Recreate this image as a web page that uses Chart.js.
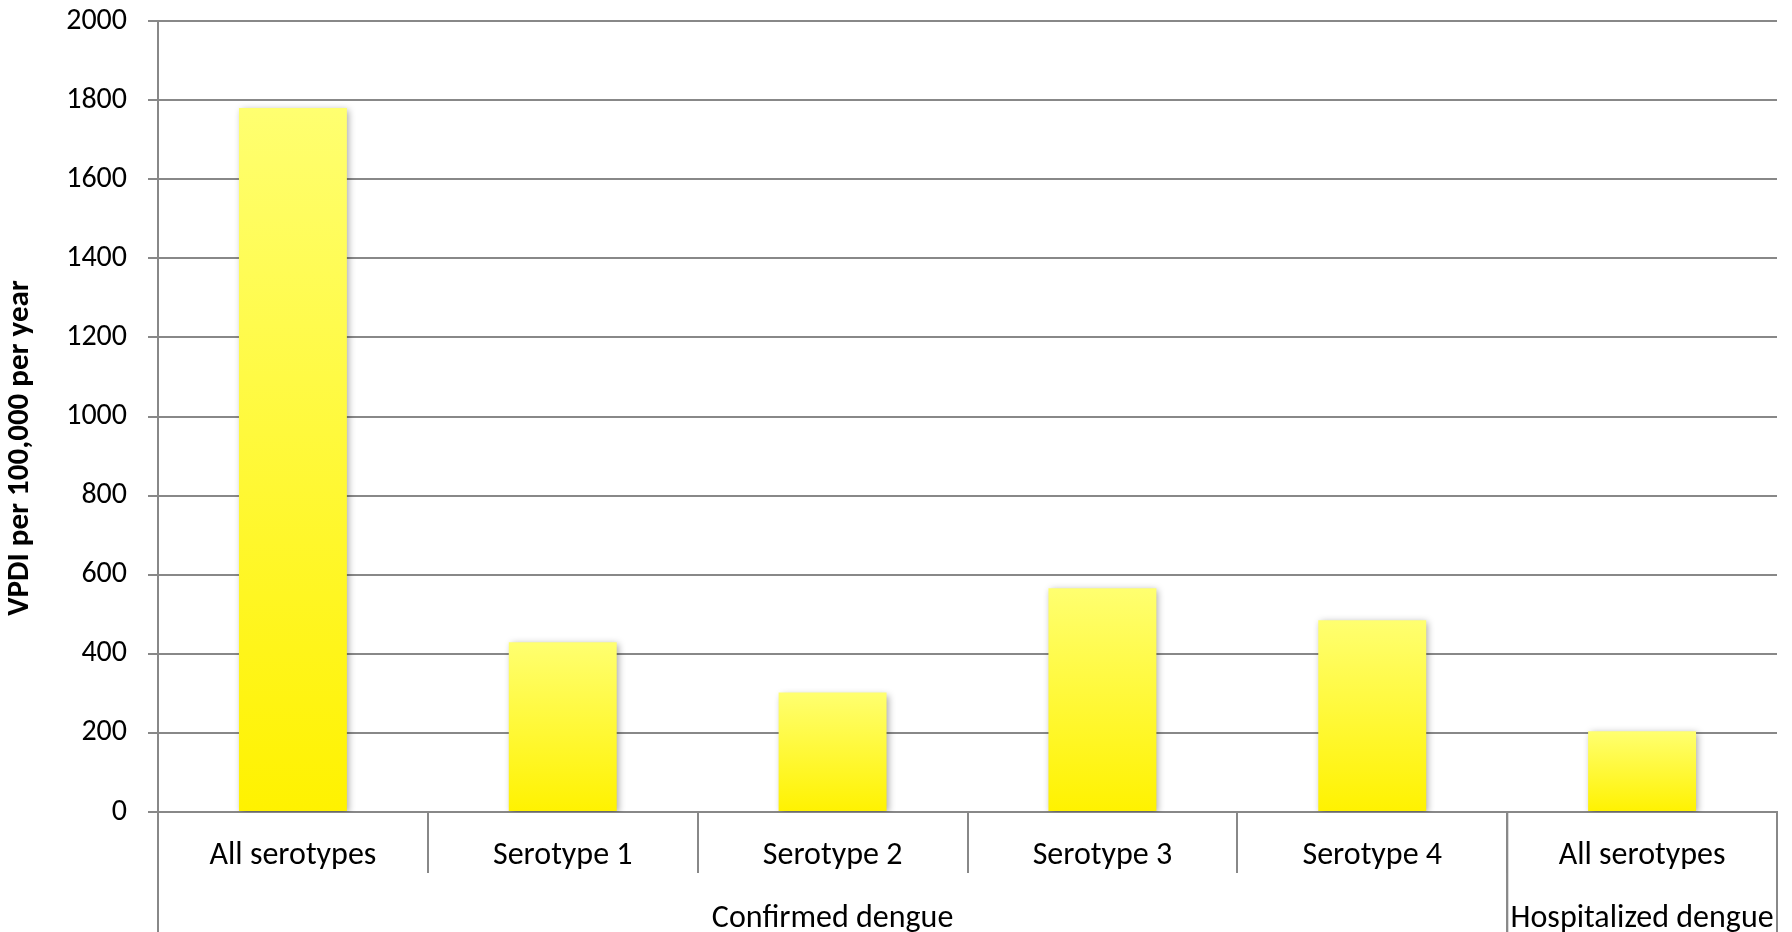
<!DOCTYPE html>
<html>
<head>
<meta charset="utf-8">
<script src="https://cdn.jsdelivr.net/npm/chart.js@4"></script>
<style>
  html, body { margin: 0; padding: 0; background: #fff; }
  #wrap { width: 1792px; height: 932px; }
</style>
</head>
<body>
<div id="wrap"><canvas id="vpdiChart"></canvas></div>
<script>
const categories = ['All serotypes', 'Serotype 1', 'Serotype 2', 'Serotype 3', 'Serotype 4', 'All serotypes'];
const vpdi = [1780, 429, 302, 566, 485, 204];
const groupLabels = ['Confirmed dengue', 'Hospitalized dengue'];
const groupSizes = [5, 1];
const yMin = 0, yMax = 2000, yStep = 200;
const yTitle = 'VPDI per 100,000 per year';

const FONT = 'Carlito, Lato, sans-serif';
const AXIS_GREY = '#888888';

// soft drop shadow under the bars
const barShadow = {
    id: 'barShadow',
    beforeDatasetsDraw(chart) {
        const ctx = chart.ctx;
        ctx.save();
        ctx.shadowColor = 'rgba(0,0,0,0.35)';
        ctx.shadowBlur = 7;
        ctx.shadowOffsetX = 2;
        ctx.shadowOffsetY = 2;
    },
    afterDatasetsDraw(chart) {
        chart.ctx.restore();
    }
};

// second row of the x axis: group labels and the long boundary lines
const groupAxis = {
    id: 'groupAxis',
    afterDraw(chart) {
        const { ctx, scales: { x } } = chart;
        const half = (x.getPixelForValue(1) - x.getPixelForValue(0)) / 2;
        ctx.save();
        ctx.strokeStyle = AXIS_GREY;
        ctx.lineWidth = 2;
        ctx.fillStyle = '#000';
        ctx.font = '32px ' + FONT;
        ctx.textAlign = 'center';
        ctx.textBaseline = 'alphabetic';
        let start = 0;
        groupLabels.forEach((label, i) => {
            const end = start + groupSizes[i];
            const left = x.getPixelForValue(start) - half;
            const right = x.getPixelForValue(end - 1) + half;
            [left, right].forEach(px => {
                ctx.beginPath();
                ctx.moveTo(px, x.top);
                ctx.lineTo(px, chart.height);
                ctx.stroke();
            });
            ctx.fillText(label, (left + right) / 2, x.bottom - 5);
            start = end;
        });
        ctx.restore();
    }
};

// rotated y axis title
const yAxisTitle = {
    id: 'yAxisTitle',
    afterDraw(chart) {
        const ctx = chart.ctx;
        ctx.save();
        ctx.translate(20, 448);
        ctx.rotate(-Math.PI / 2);
        ctx.font = 'bold 31px ' + FONT;
        ctx.fillStyle = '#000';
        ctx.textAlign = 'center';
        ctx.textBaseline = 'middle';
        ctx.fillText(yTitle, 0, 0);
        ctx.restore();
    }
};

const ctx = document.getElementById('vpdiChart').getContext('2d');

const vpdiChart = new Chart(ctx, {
    type: 'bar',
    data: {
        labels: categories,
        datasets: [{
            label: yTitle,
            data: vpdi,
            backgroundColor: c => {
                const chart = c.chart;
                if (!chart.chartArea || c.raw === undefined) return '#FFF200';
                const y = chart.scales.y;
                const g = chart.ctx.createLinearGradient(0, y.getPixelForValue(0), 0, y.getPixelForValue(c.raw));
                g.addColorStop(0, '#FFF200');
                g.addColorStop(1, '#FFFF70');
                return g;
            },
            borderWidth: 0,
            barPercentage: 0.4,
            categoryPercentage: 1.0
        }]
    },
    options: {
        responsive: true,
        maintainAspectRatio: false,
        animation: false,
        layout: { padding: { top: 21, right: 15, bottom: 0, left: 0 } },
        plugins: {
            legend: { display: false },
            tooltip: { enabled: false }
        },
        scales: {
            x: {
                offset: true,
                grid: {
                    offset: true,
                    drawOnChartArea: false,
                    tickLength: 61,
                    color: AXIS_GREY,
                    lineWidth: 2
                },
                border: { color: AXIS_GREY, width: 2 },
                ticks: {
                    font: { family: FONT, size: 32 },
                    color: '#000',
                    padding: -36,
                    maxRotation: 0,
                    autoSkip: false
                },
                afterFit: scale => { scale.height = 120; }
            },
            y: {
                min: yMin,
                max: yMax,
                grid: {
                    color: AXIS_GREY,
                    lineWidth: 2,
                    tickLength: 10
                },
                border: { color: AXIS_GREY, width: 2 },
                ticks: {
                    stepSize: yStep,
                    font: { family: FONT, size: 30 },
                    color: '#000',
                    padding: 21,
                    callback: v => String(v)
                },
                afterFit: scale => {
                    scale.width = 158;
                    // tick padding would otherwise push the plot top down
                    scale.paddingTop = 0;
                    scale.paddingBottom = 0;
                }
            }
        }
    },
    plugins: [barShadow, groupAxis, yAxisTitle]
});
</script>
</body>
</html>
